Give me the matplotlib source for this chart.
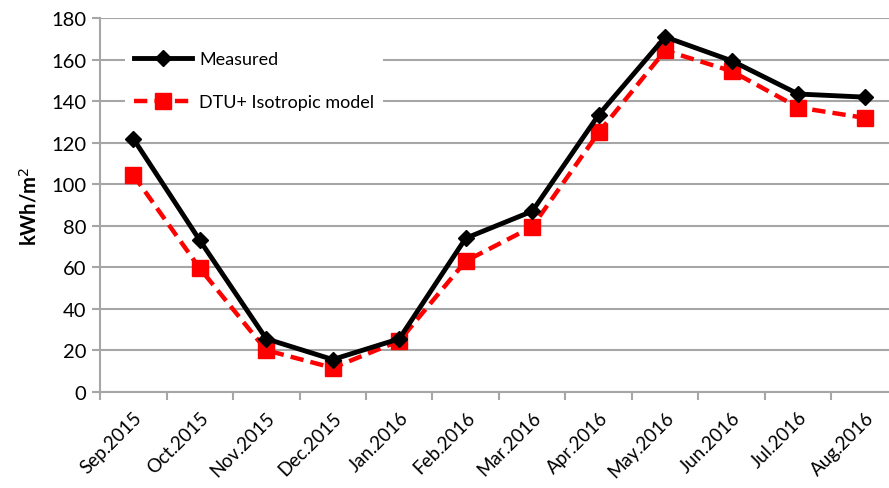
import matplotlib
matplotlib.use("Agg")
import matplotlib.pyplot as plt
import numpy as np

months = ["Sep.2015", "Oct.2015", "Nov.2015", "Dec.2015", "Jan.2016", "Feb.2016",
          "Mar.2016", "Apr.2016", "May.2016", "Jun.2016", "Jul.2016", "Aug.2016"]
measured = [122, 73, 25.5, 15.5, 25.5, 74, 87, 133.5, 171, 159.5, 143.5, 142]
model = [104.5, 59.5, 20, 11.5, 24.5, 63, 79.5, 125, 164.5, 154.5, 137, 132]
yticks = [0, 20, 40, 60, 80, 100, 120, 140, 160, 180]

plt.rcParams['font.family'] = ['Lato', 'DejaVu Sans']

fig = plt.figure(figsize=(8.89, 4.89), dpi=100)
ax = fig.add_axes([100/889, (489-392.7)/489, 798/889, (392.7-19.3)/489])

x = np.arange(len(months))
ax.plot(x, measured, color='black', lw=3.5, marker='D', markersize=8,
        label='Measured', zorder=4)
ax.plot(x, model, color='#ff0000', lw=3.2, ls=(0, (3, 1.6)), marker='s',
        markersize=11, label='DTU+ Isotropic model', zorder=3)

ax.set_xlim(-0.5, len(months) - 0.5)
ax.set_ylim(0, 180)
ax.set_yticks(yticks)
ax.set_yticklabels([str(v) for v in yticks], fontsize=14.5)
ax.yaxis.grid(True, color='#a6a6a6', lw=1.5)
ax.set_axisbelow(True)

ax.set_xticks(x)
ax.set_xticklabels(months, rotation=45, ha='right', rotation_mode='anchor', fontsize=13.5)
ax.tick_params(axis='x', which='major', length=0, pad=12)
ax.set_xticks(np.arange(-0.5, len(months) + 0.5, 1), minor=True)
ax.tick_params(axis='x', which='minor', length=6, width=1.5, color='#a6a6a6', direction='out')
ax.tick_params(axis='y', length=6, width=1.5, color='#a6a6a6', direction='out', pad=4)

for s in ['top', 'right']:
    ax.spines[s].set_visible(False)
for s in ['left', 'bottom']:
    ax.spines[s].set_color('#a6a6a6')
    ax.spines[s].set_linewidth(1.5)

ax.set_ylabel('kWh/m$^2$', fontsize=14.5, fontweight='bold', labelpad=8)

leg = ax.legend(loc='upper left', bbox_to_anchor=(0.02, 0.96), frameon=True,
                fontsize=13, handlelength=3.2, labelspacing=1.5, borderpad=0.5,
                handletextpad=0.4)
leg.get_frame().set_edgecolor('none')
leg.get_frame().set_facecolor('white')
leg.get_frame().set_alpha(1)

fig.savefig('out.png', dpi=100)
